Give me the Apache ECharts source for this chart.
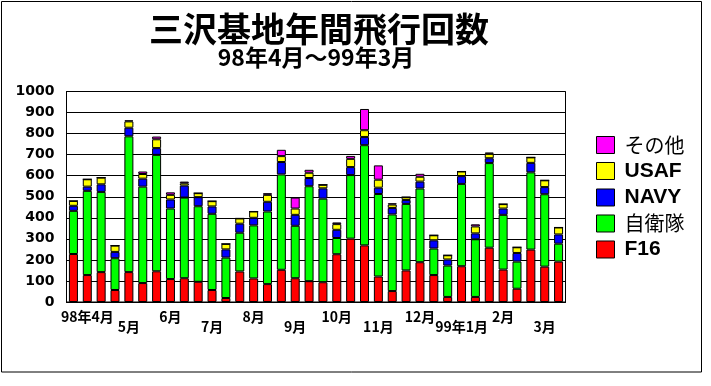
<!DOCTYPE html>
<html><head><meta charset="utf-8">
<script src="https://cdn.jsdelivr.net/npm/echarts@6/dist/echarts.min.js"></script>
<style>html,body{margin:0;padding:0;background:#fff}#c{width:711px;height:386px}</style>
</head><body><div id="c"></div>
<script>
var categories = ['98/4上','98/4中','98/4下','98/5上','98/5中','98/5下','98/6上','98/6中','98/6下','98/7上','98/7中','98/7下',
  '98/8上','98/8中','98/8下','98/9上','98/9中','98/9下','98/10上','98/10中','98/10下','98/11上','98/11中','98/11下',
  '98/12上','98/12中','98/12下','99/1上','99/1中','99/1下','99/2上','99/2中','99/2下','99/3上','99/3中','99/3下'];
var monthLabels = ['98年4月','5月','6月','7月','8月','9月','10月','11月','12月','99年1月','2月','3月'];
var seriesNames = ['F16','自衛隊','NAVY','USAF','その他'];
var f16   = [228,128,142,57,142,90,146,109,113,96,57,19,145,112,85,153,113,99,94,227,301,269,121,52,150,189,128,24,170,24,258,154,63,249,168,192];
var jsdf  = [205,400,381,151,645,458,553,335,383,359,362,192,184,252,345,453,249,451,397,77,302,476,392,364,316,350,126,149,391,274,402,260,129,367,344,85];
var navy  = [24,20,36,30,41,38,32,43,57,43,35,39,43,36,46,59,52,39,49,39,38,39,30,31,19,33,39,29,37,28,23,30,41,45,34,44];
var usaf  = [23,35,32,30,30,22,42,22,11,19,25,26,25,30,33,28,30,25,17,27,39,32,38,16,13,23,24,20,22,33,21,21,27,26,32,33];
var other = [0,0,0,0,5,12,13,12,8,0,0,0,0,0,8,30,52,14,0,8,14,101,68,6,0,14,0,0,0,10,6,0,0,0,0,0];
var yTicks = [0,100,200,300,400,500,600,700,800,900,1000];
var titleText = '三沢基地年間飛行回数';
var subtitleText = '98年4月～99年3月';

var colors = ['#ff0000','#00ff00','#0000ff','#ffff00','#ff00ff'];
var values = [f16, jsdf, navy, usaf, other];

var chart = echarts.init(document.getElementById('c'), null, {renderer:'canvas'});
function xLabel(parity){
  return {
    show:true,
    interval:function(i){ return i%3===1 && (Math.floor(i/3)%2)===parity; },
    formatter:function(v,i){ return monthLabels[Math.floor(i/3)]; },
    margin: parity===0 ? 8 : 18,
    color:'#000', fontSize:14, fontWeight:'bold', fontFamily:'Noto Sans CJK JP'
  };
}
var option = {
  animation:false,
  backgroundColor:'#fff',
  graphic:[
    {type:'rect', shape:{x:1.5,y:1.5,width:700,height:370.5}, style:{fill:null, stroke:'#000', lineWidth:1}, silent:true},
    {type:'text', x:319, y:29, style:{text:titleText, font:'bold 34px "Noto Sans CJK JP"', fill:'#000', textAlign:'center', textVerticalAlign:'middle'}},
    {type:'text', x:316, y:57, style:{text:subtitleText, font:'bold 23px "Noto Sans CJK JP"', fill:'#000', textAlign:'center', textVerticalAlign:'middle'}}
  ],
  grid:{left:66.5, top:91.5, width:499, height:210.5, show:true, borderColor:'#000', borderWidth:1, containLabel:false},
  legend:{
    orient:'vertical', left:596, top:135, padding:0, itemWidth:18, itemHeight:17, itemGap:5.5,
    data:['その他','USAF','NAVY','自衛隊','F16'],
    icon:'rect',
    itemStyle:{borderColor:'#000', borderWidth:1},
    formatter:function(n){ return /^[A-Z0-9]+$/.test(n) ? '{b|'+n+'}' : '{j|'+n+'}'; },
    textStyle:{
      rich:{
        b:{fontFamily:'Liberation Sans', fontWeight:'bold', fontSize:21, lineHeight:18, color:'#000', padding:[0,0,0,5]},
        j:{fontFamily:'Noto Sans CJK JP', fontWeight:'normal', fontSize:20, lineHeight:18, color:'#000', padding:[0,0,0,5]}
      }
    }
  },
  xAxis:[
    {type:'category', data:categories, axisLine:{show:true, lineStyle:{color:'#000'}}, axisTick:{show:false}, axisLabel:xLabel(0), splitLine:{show:false}},
    {type:'category', data:categories, position:'bottom', offset:0, axisLine:{show:false}, axisTick:{show:false}, axisLabel:xLabel(1), splitLine:{show:false}}
  ],
  yAxis:{
    type:'value', min:yTicks[0], max:yTicks[yTicks.length-1], interval:100,
    axisLine:{show:true, lineStyle:{color:'#000'}}, axisTick:{show:false},
    axisLabel:{color:'#000', fontSize:14, fontWeight:'bold', fontFamily:'DejaVu Sans', margin:12, formatter:function(v){ return String(v); }},
    splitLine:{show:true, lineStyle:{color:'#000', width:1}}
  },
  series: seriesNames.map(function(n,k){
    return {name:n, type:'bar', stack:'total', xAxisIndex:0, barWidth:9, data:values[k],
      itemStyle:{color:colors[k], borderColor:'#000', borderWidth:1}};
  })
};
chart.setOption(option);
</script></body></html>
